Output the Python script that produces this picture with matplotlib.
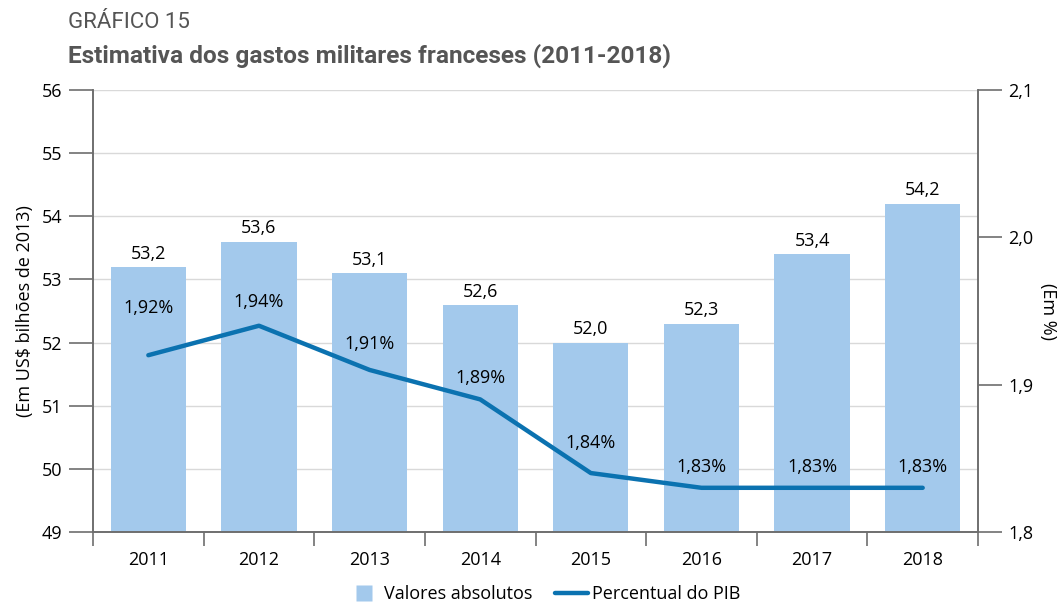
import matplotlib
matplotlib.use('Agg')
import matplotlib.pyplot as plt
from matplotlib import font_manager
from matplotlib.lines import Line2D

anos = ['2011', '2012', '2013', '2014', '2015', '2016', '2017', '2018']
valores_absolutos = [53.2, 53.6, 53.1, 52.6, 52.0, 52.3, 53.4, 54.2]
percentual_pib = [1.92, 1.94, 1.91, 1.89, 1.84, 1.83, 1.83, 1.83]

# deslocamento (px) dos rótulos da linha, como no original
desloc_rotulos = [38, 15, 17, 12, 21, 12, 12, 12]

nomes = {f.name for f in font_manager.fontManager.ttflist}
fonte = 'Open Sans' if 'Open Sans' in nomes else 'DejaVu Sans'
fonte_titulo = 'Roboto' if 'Roboto' in nomes else fonte
plt.rcParams['font.family'] = [fonte, 'DejaVu Sans']

cor_barra = '#a3c9ec'
cor_linha = '#0b72b0'
cor_eixo = '#6e6e6e'
tam = 13


def virgula(v, casas):
    return f'{v:.{casas}f}'.replace('.', ',')


fig = plt.figure(figsize=(10.62, 6.04), dpi=100)
ax = fig.add_axes([0.0876, 0.1192, 0.8333, 0.7318])
ax2 = ax.twinx()

x = list(range(len(anos)))
ax.bar(x, [v - 49 for v in valores_absolutos], bottom=49, width=0.68,
       color=cor_barra, zorder=2)
ax.set_ylim(49, 56)
ax.set_xlim(-0.5, len(anos) - 0.5)
ax.set_yticks(range(49, 57))
ax.set_yticklabels([str(v) for v in range(49, 57)], fontsize=tam)
ax.yaxis.grid(True, color='#d9d9d9', linewidth=1, zorder=0)
ax.set_axisbelow(True)

ax.set_xticks(x)
ax.set_xticklabels(anos, fontsize=tam)
ax.tick_params(axis='x', length=0, pad=14)
ax.set_xticks([i - 0.5 for i in range(len(anos) + 1)], minor=True)
ax.tick_params(axis='x', which='minor', length=10, color=cor_eixo, width=1.2)
ax.tick_params(axis='y', length=17, color=cor_eixo, width=1.2, pad=5)

for i, v in enumerate(valores_absolutos):
    ax.annotate(virgula(v, 1), (i, v), xytext=(0, 3), textcoords='offset points',
                ha='center', va='bottom', fontsize=tam)

ax2.plot(x, percentual_pib, color=cor_linha, linewidth=3.2,
         solid_capstyle='round', zorder=3)
ax2.set_ylim(1.8, 2.1)
ticks_dir = [1.8, 1.9, 2.0, 2.1]
ax2.set_yticks(ticks_dir)
ax2.set_yticklabels([virgula(t, 1) for t in ticks_dir], fontsize=tam)
ax2.tick_params(axis='y', length=17, color=cor_eixo, width=1.2, pad=5)

for i, v in enumerate(percentual_pib):
    ax2.annotate(virgula(v, 2) + '%', (i, v), xytext=(0, desloc_rotulos[i] * 0.72),
                 textcoords='offset points', ha='center', va='bottom', fontsize=tam)

for a in (ax, ax2):
    a.spines['top'].set_visible(False)
    for s in ('left', 'right', 'bottom'):
        a.spines[s].set_color(cor_eixo)
        a.spines[s].set_linewidth(1.2)

ax.set_ylabel('(Em US$ bilhões de 2013)', fontsize=tam, labelpad=6)
fig.text(1048 / 1062, 0.485, '(Em %)', fontsize=tam, rotation=270,
         ha='center', va='center')

fig.text(0.064, 0.963, 'GRÁFICO 15', fontsize=16, color='#555555',
         ha='left', va='center', family=[fonte_titulo, 'DejaVu Sans'])
fig.text(0.064, 0.907, 'Estimativa dos gastos militares franceses (2011-2018)',
         fontsize=17.6, fontweight='bold', color='#555555', ha='left', va='center',
         family=[fonte_titulo, 'DejaVu Sans'])

handles = [Line2D([0], [0], linestyle='none', marker='s', markersize=11,
                  markerfacecolor=cor_barra, markeredgecolor='none'),
           Line2D([0], [0], color=cor_linha, linewidth=3.2, solid_capstyle='round')]
fig.legend(handles, ['Valores absolutos', 'Percentual do PIB'], loc='lower center',
           bbox_to_anchor=(0.512, -0.025), ncol=2, frameon=False, fontsize=tam,
           handlelength=1.8, handletextpad=0.2, columnspacing=1.3)

fig.savefig('out.png', dpi=100)
